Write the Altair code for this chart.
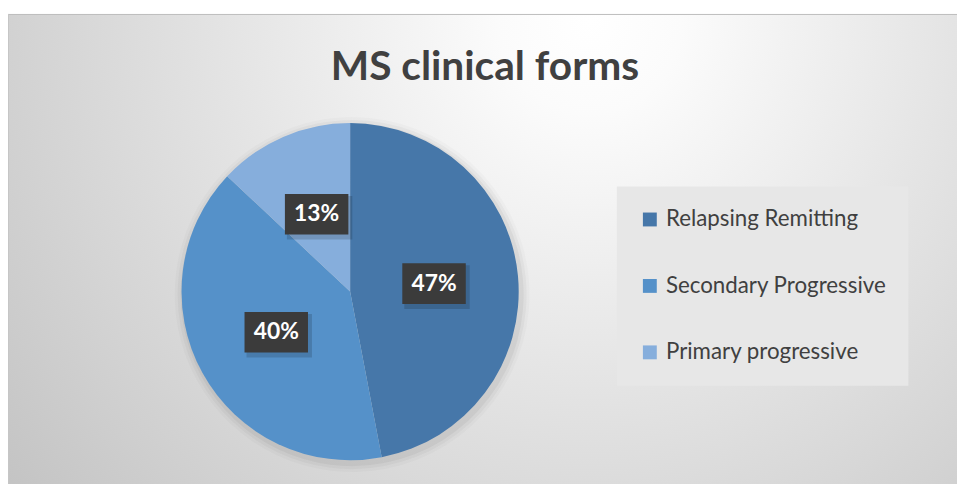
import altair as alt
import pandas as pd

categories = ["Relapsing Remitting", "Secondary Progressive", "Primary progressive"]
percent = [47, 40, 13]
colors = ["#4677A9", "#5591C9", "#86AEDC"]
title_text = "MS clinical forms"

df = pd.DataFrame({"form": categories, "pct": percent, "idx": list(range(len(categories)))})

W, H = 957, 474
CX, CY, R = 345, 280, 170
LR = 85
BW, BH = 64, 41

# background: tall rect (clipped to the view) so the radial gradient is an upright ellipse
bg = alt.Chart(pd.DataFrame({"a": [0]})).mark_rect(
    clip=True,
    fill={"gradient": "radial",
          "stops": [{"offset": 0, "color": "#ffffff"}, {"offset": 0.12, "color": "#fbfbfb"},
                    {"offset": 1, "color": "#c2c2c2"}],
          "x1": 0.57, "y1": 0.46, "r1": 0, "x2": 0.57, "y2": 0.46, "r2": 0.5},
    strokeWidth=0
).encode(x=alt.value(0), x2=alt.value(W), y=alt.value(-700), y2=alt.value(840))

top_rule = alt.Chart(pd.DataFrame({"a": [0]})).mark_rule(color="#bdbdbd", strokeWidth=1).encode(
    x=alt.value(0), x2=alt.value(W), y=alt.value(0.5))
left_rule = alt.Chart(pd.DataFrame({"a": [0]})).mark_rule(color="#c6c6c6", strokeWidth=1).encode(
    x=alt.value(0.5), y=alt.value(0), y2=alt.value(H))

base = alt.Chart(df)

shadows = []
for k, op in [(9, 0.02), (6, 0.03), (3, 0.045)]:
    shadows.append(base.mark_arc(outerRadius=R + k, fill="#000000", opacity=op, strokeWidth=0).encode(
        theta=alt.Theta("pct:Q", stack=True), order=alt.Order("idx:Q"),
        x=alt.value(CX + 2), y=alt.value(CY + 3)))

pie = base.mark_arc(outerRadius=R, strokeWidth=0).encode(
    theta=alt.Theta("pct:Q", stack=True),
    order=alt.Order("idx:Q"),
    color=alt.Color("form:N", scale=alt.Scale(domain=categories, range=colors),
                    legend=alt.Legend(orient="none", legendX=614, legendY=174, title=None,
                                      fillColor="#e7e7e7", padding=22, symbolType="square",
                                      symbolSize=196, symbolStrokeWidth=0, labelFont="Lato",
                                      labelFontSize=22.5, labelColor="#404040", labelOffset=5,
                                      rowPadding=44, labelLimit=400)),
    x=alt.value(CX), y=alt.value(CY))

lab = base.transform_window(
    cum="sum(pct)", sort=[alt.SortField("idx")]
).transform_joinaggregate(total="sum(pct)").transform_calculate(
    mid="(datum.cum - datum.pct/2)/datum.total",
    lx=f"{CX} + {LR}*sin(2*PI*datum.mid)",
    ly=f"{CY} - {LR}*cos(2*PI*datum.mid)",
    bx1=f"datum.lx - {BW/2}", bx2=f"datum.lx + {BW/2}",
    by1=f"datum.ly - {BH/2}", by2=f"datum.ly + {BH/2}",
    sx1=f"datum.lx - {BW/2} + 2", sx2=f"datum.lx + {BW/2} + 4",
    sy1=f"datum.ly - {BH/2} + 2", sy2=f"datum.ly + {BH/2} + 5",
    label="datum.pct + '%'")

box_shadow = lab.mark_rect(fill="#000000", opacity=0.15).encode(
    x=alt.X("sx1:Q", scale=None, axis=None), x2="sx2:Q",
    y=alt.Y("sy1:Q", scale=None, axis=None), y2="sy2:Q")
box = lab.mark_rect(fill="#3b3b3b").encode(
    x=alt.X("bx1:Q", scale=None, axis=None), x2="bx2:Q",
    y=alt.Y("by1:Q", scale=None, axis=None), y2="by2:Q")
txt = lab.mark_text(font="Lato", fontWeight="bold", fontSize=23, color="#ffffff",
                    baseline="middle", align="center").encode(
    x=alt.X("lx:Q", scale=None, axis=None), y=alt.Y("ly:Q", scale=None, axis=None),
    text="label:N")

title = alt.Chart(pd.DataFrame({"t": [title_text]})).mark_text(
    font="Lato", fontWeight="bold", fontSize=41, color="#404040",
    baseline="middle", align="center").encode(
    text="t:N", x=alt.value(481), y=alt.value(55))

chart = alt.layer(bg, top_rule, left_rule, *shadows, pie, box_shadow, box, txt, title).properties(
    width=W, height=H, autosize="none",
    padding={"left": 0, "top": 4, "right": 0, "bottom": 0}
).configure_view(stroke=None)

chart.save("out.html", embed_options={"renderer": "svg", "actions": False})
